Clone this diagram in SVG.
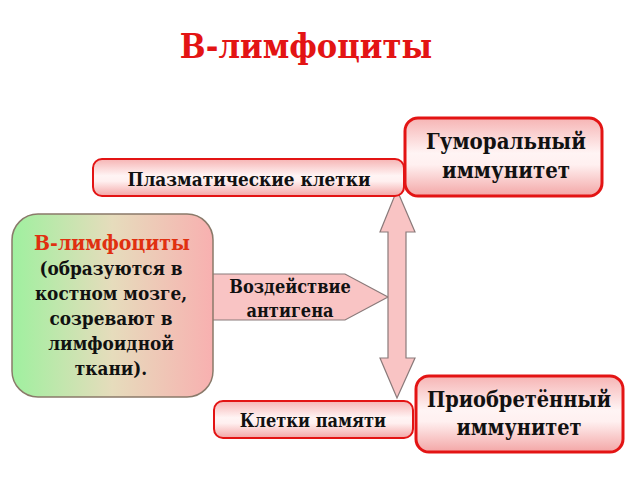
<svg xmlns="http://www.w3.org/2000/svg" width="640" height="480" viewBox="0 0 640 480">
<defs>
<linearGradient id="gRed" x1="0" y1="0" x2="0" y2="1">
<stop offset="0" stop-color="#f6b4b4"/>
<stop offset="0.45" stop-color="#fff4f4"/>
<stop offset="0.6" stop-color="#fff0f0"/>
<stop offset="1" stop-color="#f3a6a6"/>
</linearGradient>
<linearGradient id="gLeft" x1="0" y1="0" x2="1" y2="0">
<stop offset="0" stop-color="#9ff09f"/>
<stop offset="0.5" stop-color="#e6dcbc"/>
<stop offset="1" stop-color="#f8b0b0"/>
</linearGradient>
<style>
.box{fill:url(#gRed);stroke:#e31414;}
.t{font-weight:bold;fill:#111;text-anchor:middle;}
.pink{fill:#f9c4c4;stroke:#8a7a7a;stroke-width:1.2;}
</style>
</defs>
<g font-family="'DejaVu Serif Condensed', 'DejaVu Serif', serif">
<text x="306" y="58" class="t" font-size="34" style="fill:#e31414">В-лимфоциты</text>

<g id="connectors">
<polygon class="pink" points="210,274 345,274 388,297 345,320 210,320"/>
<polygon class="pink" points="397,190 415,232 406,232 406,358 415,358 397,398 380,358 388,358 388,232 380,232"/>
</g>

<g id="plasma">
<rect class="box" x="93" y="159" width="311" height="37" rx="9" stroke-width="2"/>
<text x="249" y="186" class="t" font-size="18.8">Плазматические  клетки</text>
</g>

<g id="humoral">
<rect class="box" x="405" y="118" width="197" height="78" rx="13" stroke-width="3"/>
<text x="506" y="149" class="t" font-size="22">Гуморальный</text>
<text x="506" y="178" class="t" font-size="22">иммунитет</text>
</g>

<g id="blymph">
<rect x="12" y="214" width="201" height="183" rx="26" fill="url(#gLeft)" stroke="#8a7a6a" stroke-width="1.5"/>
<text x="112" y="250" class="t" font-size="21" style="fill:#e03010">В-лимфоциты</text>
<text x="111" y="275" class="t" font-size="18.8">(образуются в</text>
<text x="111" y="300" class="t" font-size="18.8">костном мозге,</text>
<text x="111" y="325" class="t" font-size="18.8">созревают в</text>
<text x="111" y="350" class="t" font-size="18.8">лимфоидной</text>
<text x="111" y="375" class="t" font-size="18.8">ткани).</text>
</g>

<g id="antigen">
<text x="290" y="293" class="t" font-size="18">Воздействие</text>
<text x="290" y="317" class="t" font-size="18">антигена</text>
</g>

<g id="memory">
<rect class="box" x="214" y="401" width="199" height="37" rx="9" stroke-width="2"/>
<text x="313" y="427" class="t" font-size="18">Клетки памяти</text>
</g>

<g id="acquired">
<rect class="box" x="416" y="376" width="207" height="76" rx="13" stroke-width="3"/>
<text x="519" y="407" class="t" font-size="21.5">Приобретённый</text>
<text x="519" y="435" class="t" font-size="21.5">иммунитет</text>
</g>
</g>
</svg>
